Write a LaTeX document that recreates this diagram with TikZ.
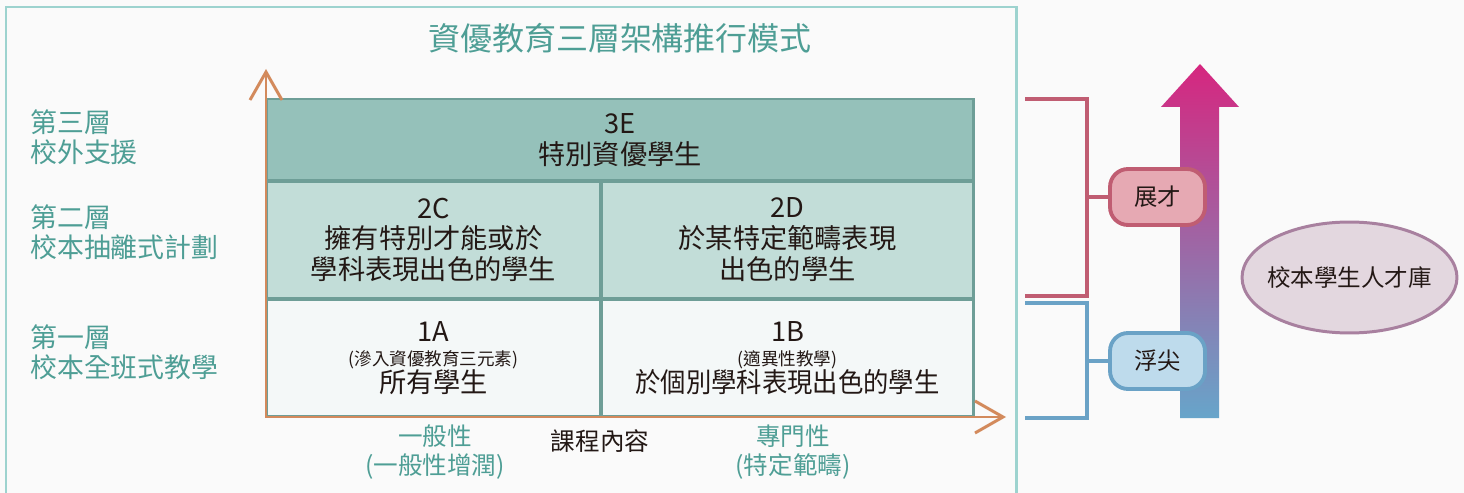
\documentclass[tikz,border=0pt]{standalone}
\usepackage{fontspec}
\setmainfont{Noto Sans CJK TC}
\usetikzlibrary{shapes,shapes.geometric,arrows.meta,calc}
\definecolor{bgGray}{HTML}{FAFAFA}
\definecolor{frameTeal}{HTML}{9DD3CF}
\definecolor{txtTeal}{HTML}{4E9E95}
\definecolor{txtDark}{HTML}{231815}
\definecolor{cellLine}{HTML}{6E9E97}
\definecolor{cellTop}{HTML}{95C1BA}
\definecolor{cellMid}{HTML}{C2DDD8}
\definecolor{cellLow}{HTML}{F4F8F8}
\definecolor{axisOrange}{HTML}{D38A5C}
\definecolor{zcLine}{HTML}{C05D72}
\definecolor{zcFill}{HTML}{E6A9B3}
\definecolor{fjLine}{HTML}{6AA2C6}
\definecolor{fjFill}{HTML}{BEDBEC}
\definecolor{arrTop}{HTML}{D6267F}
\definecolor{arrBot}{HTML}{67A5CA}
\definecolor{poolLine}{HTML}{A8809F}
\definecolor{poolFill}{HTML}{E3D7DF}
\tikzset{
  cellnode/.style = {rectangle, draw=cellLine, line width=1.7pt, align=center, inner sep=0pt, outer sep=0pt, text=txtDark, font=\fontsize{15.5}{17.6}\selectfont},
  cell_t/.style = {cellnode, fill=cellTop, minimum width=14.16cm, minimum height=1.64cm},
  cell_m/.style = {cellnode, fill=cellMid, minimum height=2.36cm},
  cell_l/.style = {cellnode, fill=cellLow, minimum height=2.36cm},
  tag_box/.style = {rectangle, rounded corners=0.36cm, line width=2.2pt, minimum width=1.9cm, minimum height=1.12cm, inner sep=0pt, text=txtDark, font=\fontsize{13.3}{16}\selectfont},
  brk_line/.style = {line width=2.2pt}
}
\begin{document}
\begin{tikzpicture}[x=0.02cm, y=-0.02cm]
			\tikzstyle{lvl_lbl}=[anchor=west, align=left, text=txtTeal, font=\fontsize{15.3}{17}\selectfont, inner sep=0pt]
			\tikzstyle{axis_lbl}=[align=center, text=txtTeal, font=\fontsize{14}{16.4}\selectfont, inner sep=0pt]
			\useasboundingbox (0,0) rectangle (1464,493);
			\fill[bgGray] (0,0) rectangle (1464,493);
			\draw[frameTeal, line width=1.7pt] (6,7) rectangle (1016,520);
			\node[text=txtTeal, font=\fontsize{18.2}{21}\selectfont] (title) at (620,38) {資優教育三層架構推行模式};
			\node[lvl_lbl] (lvl_3) at (30,137) {第三層\\校外支援};
			\node[lvl_lbl] (lvl_2) at (30,232.5) {第二層\\校本抽離式計劃};
			\node[lvl_lbl] (lvl_1) at (30,352) {第一層\\校本全班式教學};
			\node[cell_t] (c_3e) at (620,140) {3E\\特別資優學生};
			\node[cell_m, minimum width=6.7cm] (c_2c) at (433.5,240) {2C\\擁有特別才能或於\\學科表現出色的學生};
			\node[cell_m, minimum width=7.46cm] (c_2d) at (787.5,240) {2D\\於某特定範疇表現\\出色的學生};
			\node[cell_l, minimum width=6.7cm] (c_1a) at (433.5,358) {1A\\[-4pt]{\fontsize{10}{12}\selectfont (滲入資優教育三元素)}\\[-2pt]所有學生};
			\node[cell_l, minimum width=7.46cm] (c_1b) at (787.5,358) {1B\\[-4pt]{\fontsize{10}{12}\selectfont (適異性教學)}\\[-2pt]\scalebox{0.93}[1]{於個別學科表現出色的學生}};
			\coordinate (ax_o) at (266,417);
			\coordinate (ax_y) at (266,69);
			\coordinate (ax_x) at (1006,417);
			\draw[axisOrange, line width=1.7pt, arrows={Straight Barb[length=0.56cm, width=0.64cm]-Straight Barb[length=0.56cm, width=0.64cm]}] (ax_y) -- (ax_o) -- (ax_x);
			\node[axis_lbl] (gen) at (435,452) {一般性\\(一般性增潤)};
			\node[axis_lbl, text=txtDark] (content) at (600,441) {課程內容};
			\node[axis_lbl] (spec) at (793,452) {專門性\\(特定範疇)};
			\shade[top color=arrTop, bottom color=arrBot] (1180,418) -- (1180,107) -- (1161,107) -- (1200,64) -- (1239,107) -- (1219,107) -- (1219,418) -- cycle;
			\node[tag_box, draw=zcLine, fill=zcFill] (b_zc) at (1157.5,197) {展才};
			\node[tag_box, draw=fjLine, fill=fjFill] (b_fj) at (1157.5,361) {浮尖};
			\coordinate (zc_t) at (1025,99);
			\coordinate (zc_m) at (1087,197);
			\coordinate (zc_b) at (1025,296);
			\coordinate (fj_t) at (1025,303);
			\coordinate (fj_m) at (1087,361);
			\coordinate (fj_b) at (1025,418);
			\draw[brk_line, zcLine] (zc_t) -| (zc_m) |- (zc_b);
			\draw[brk_line, zcLine] (zc_m) -- (b_zc);
			\draw[brk_line, fjLine] (fj_t) -| (fj_m) |- (fj_b);
			\draw[brk_line, fjLine] (fj_m) -- (b_fj);
			\node[ellipse, draw=poolLine, fill=poolFill, line width=1.7pt, minimum width=4.3cm, minimum height=2.22cm, inner sep=0pt, text=txtDark, font=\fontsize{13.4}{16}\selectfont] (pool) at (1349.5,277.5) {\makebox[0pt]{校本學生人才庫}};
		\end{tikzpicture}
\end{document}
